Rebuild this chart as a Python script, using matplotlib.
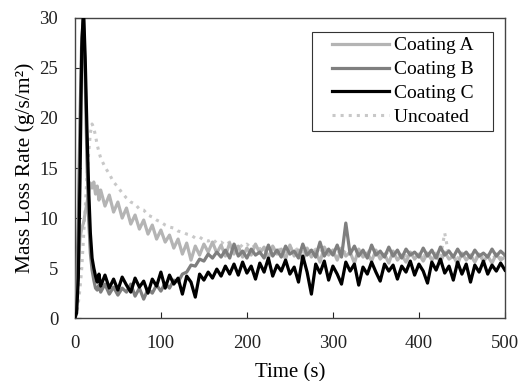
import numpy as np
import matplotlib
matplotlib.use("Agg")
import matplotlib.pyplot as plt
from matplotlib.legend_handler import HandlerLine2D

plt.rcParams['font.family'] = ['Liberation Serif', 'DejaVu Serif']

# fine sampling over the ignition peak, then every 5 s
t_early = [0, 2, 4, 6, 8, 10, 12, 14, 16, 18, 20, 22, 24, 26, 28]

coat_c_early = [0, 0.5, 4, 14, 27, 31, 26, 19, 13, 8.5, 6, 5, 4.2, 3.6, 4.4]
coat_c_late = [3.2, 4.3, 3.0, 3.9, 2.8, 4.1, 3.3, 2.6, 4.0, 3.1, 3.7, 2.5, 3.9, 3.2, 4.6, 3.0,
               4.3, 3.4, 4.0, 2.4, 4.2, 3.6, 2.1, 4.4, 3.8, 4.6, 4.0, 4.9, 4.2, 5.2, 4.4, 5.4,
               4.3, 5.6, 4.5, 5.2, 3.9, 5.5, 4.6, 6.0, 4.2, 5.3, 4.7, 5.8, 4.4, 5.1, 3.6, 6.2,
               4.6, 2.4, 5.4, 4.5, 5.7, 3.8, 5.2, 4.4, 3.4, 5.6, 4.7, 5.4, 3.3, 5.1, 4.4, 5.6,
               4.6, 3.7, 5.4, 4.7, 5.3, 3.9, 5.2, 4.6, 5.7, 4.3, 5.4, 4.7, 3.5, 5.6, 4.8, 5.9,
               4.5, 5.2, 3.8, 5.6, 4.4, 5.4, 3.6, 5.3, 4.6, 5.7, 4.4, 5.3, 4.7, 5.5, 4.8]

coat_b_early = [0, 3, 10, 20, 28, 30, 24, 16, 10, 6.5, 4.8, 3.8, 3.0, 2.8, 3.3]
coat_b_late = [2.6, 3.4, 2.4, 3.1, 2.3, 3.0, 2.6, 3.4, 2.2, 3.0, 1.9, 2.9, 2.5, 3.3, 2.7, 3.5,
               3.0, 3.8, 3.6, 4.4, 4.6, 5.3, 5.2, 5.9, 5.7, 6.4, 6.0, 6.6, 6.1, 6.8, 6.0, 7.4,
               6.2, 6.7, 6.0, 6.9, 6.3, 6.6, 6.0, 7.3, 6.2, 6.8, 6.1, 7.2, 6.4, 6.7, 6.0, 7.4,
               6.3, 6.8, 6.1, 7.6, 6.2, 6.9, 6.3, 7.3, 6.1, 9.5, 6.4, 7.2, 6.2, 6.8, 6.0, 7.3,
               6.3, 6.7, 6.1, 7.1, 6.2, 6.8, 6.0, 6.9, 6.3, 6.6, 6.1, 7.0, 6.2, 6.8, 6.0, 7.1,
               6.3, 6.7, 6.1, 6.9, 6.2, 6.6, 6.0, 6.8, 6.2, 6.5, 6.1, 6.9, 6.2, 6.7, 6.3]

coat_a_early = [0, 1.5, 5, 8, 9, 9.5, 10.5, 11.5, 12.5, 13.5, 13, 13.6, 12.4, 13.2, 11.8]
coat_a_late = [12.8, 11.2, 12.3, 10.6, 11.6, 10.0, 11.0, 9.4, 10.3, 8.9, 9.8, 8.4, 9.3, 7.9,
               8.8, 7.6, 8.3, 7.0, 7.9, 6.4, 7.5, 5.8, 7.2, 6.3, 7.4, 6.6, 7.6, 6.5, 7.3, 6.2,
               7.5, 6.4, 7.2, 6.1, 7.0, 6.3, 7.4, 6.5, 7.1, 6.0, 7.2, 6.4, 6.9, 5.9, 7.3, 6.2,
               6.8, 5.7, 7.0, 6.1, 6.7, 5.6, 7.1, 6.3, 6.8, 5.8, 7.0, 6.2, 6.6, 5.5, 6.9, 6.1,
               6.5, 5.7, 6.8, 5.9, 6.4, 5.5, 6.7, 5.8, 6.3, 5.6, 6.6, 5.9, 6.4, 5.7, 6.5, 5.8,
               6.3, 5.6, 6.6, 5.9, 6.2, 5.4, 6.5, 5.8, 6.3, 5.6, 6.4, 5.7, 6.2, 5.5, 6.4, 5.8, 6.1]

uncoated_early = [0, 0.5, 1.5, 3, 5, 8, 11, 14, 16.5, 18.5, 19.4, 19.0, 18.2, 17.3, 16.6]
uncoated_late = [16.0, 15.1, 14.4, 13.6, 13.1, 12.5, 12.0, 11.6, 11.4, 10.9, 10.8, 10.3, 10.1,
                 9.8, 9.6, 9.3, 9.1, 9.0, 8.7, 8.6, 8.4, 8.3, 8.0, 8.1, 7.8, 7.7, 7.9, 7.5,
                 7.6, 7.3, 7.6, 7.2, 7.5, 7.1, 7.4, 7.0, 7.3, 6.9, 7.2, 6.8, 7.1, 6.7, 7.0,
                 6.6, 7.1, 6.7, 7.0, 6.6, 6.9, 6.5, 6.9, 6.6, 7.0, 6.5, 6.8, 6.4, 6.9, 6.5,
                 6.8, 6.4, 6.7, 6.3, 6.8, 6.4, 6.6, 6.2, 6.7, 6.3, 6.6, 6.2, 6.5, 6.2, 6.6,
                 6.1, 6.5, 6.2, 6.4, 6.0, 6.5, 6.1, 8.5, 6.2, 6.4, 6.0, 6.4, 6.1, 6.3, 5.9,
                 6.4, 6.0, 6.3, 5.9, 6.3, 6.0, 6.2]


def series(early, late):
    t = np.concatenate([t_early, 30 + 5 * np.arange(len(late))])
    return t, np.concatenate([early, late])


fig = plt.figure(figsize=(5.2, 3.81), dpi=100)
ax = fig.add_axes([0.144, 0.165, 0.827, 0.788])

t, y = series(uncoated_early, uncoated_late)
ax.plot(t, y, color='#c8c8c8', ls=':', lw=2.2, label='Uncoated', zorder=2)
t, y = series(coat_a_early, coat_a_late)
ax.plot(t, y, color='#b4b4b4', lw=2.3, label='Coating A', zorder=3)
t, y = series(coat_b_early, coat_b_late)
ax.plot(t, y, color='#7f7f7f', lw=2.3, label='Coating B', zorder=4)
t, y = series(coat_c_early, coat_c_late)
ax.plot(t, y, color='black', lw=2.3, label='Coating C', zorder=5)

ax.set_xlim(0, 500)
ax.set_ylim(0, 30)
ax.set_xticks([0, 100, 200, 300, 400, 500])
ax.set_yticks([0, 5, 10, 15, 20, 25, 30])
ax.tick_params(direction='in', length=4, labelsize=13.5, colors='#222222')
ax.tick_params(axis='x', pad=12)
ax.tick_params(axis='y', pad=12)
for s in ax.spines.values():
    s.set_color('#444444')
    s.set_linewidth(1.0)

ax.set_xlabel('Time (s)', fontsize=15, labelpad=8)
ax.set_ylabel('Mass Loss Rate (g/s/m²)', fontsize=15.5, labelpad=3)

# legend: handles inset from the left edge, a bit of room after the text
h, l = ax.get_legend_handles_labels()
order = [1, 2, 3, 0]
leg = ax.legend([h[i] for i in order], [l[i] + '   ' for i in order], loc='upper right',
                bbox_to_anchor=(0.972, 0.953), fontsize=14, fancybox=False,
                edgecolor='#333333', framealpha=1, handlelength=3.7,
                labelspacing=0.32, borderpad=0.25, handletextpad=0.26,
                borderaxespad=0,
                handler_map={type(h[0]): HandlerLine2D(xpad=0.77)})
leg.get_frame().set_linewidth(0.8)

fig.savefig('out.png', dpi=100)
